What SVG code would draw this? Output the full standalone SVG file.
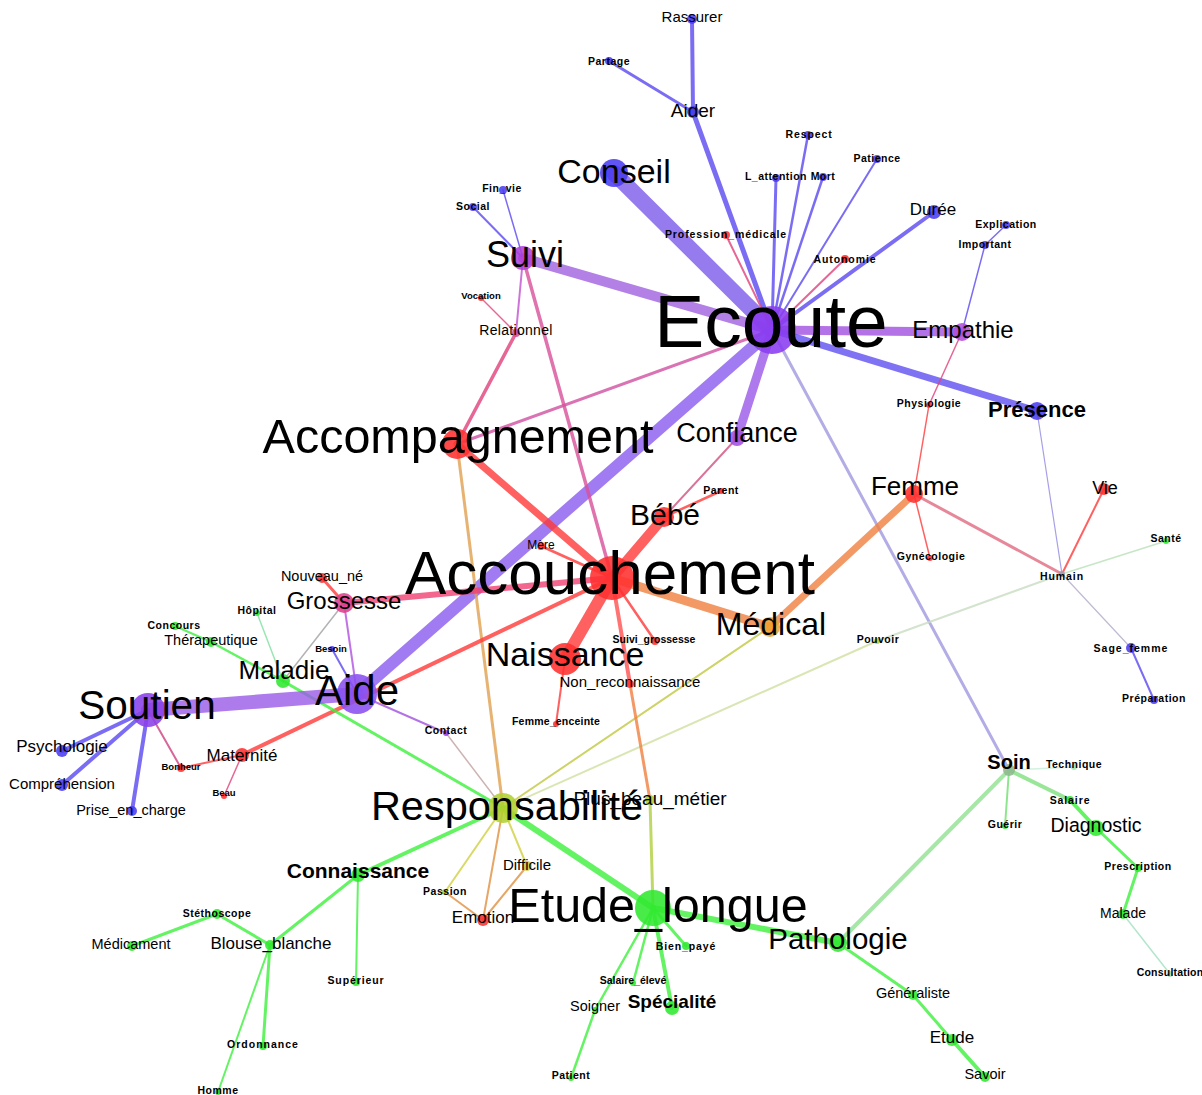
<svg xmlns="http://www.w3.org/2000/svg" width="1202" height="1095" viewBox="0 0 1202 1095">
<style>
.e{fill:none;stroke-linecap:round;stroke-opacity:0.8}
.eb{stroke:#5a48f0}.ep{stroke:#9055e8}.er{stroke:#ff3a3a}.ek{stroke:#e0407a}.eo{stroke:#f08040}.eg{stroke:#3cf03c}
.n{opacity:0.88}
.nb{fill:#4a3cf0}.np{fill:#9040e0}.nr{fill:#ff3030}.nk{fill:#e03c8c}.no{fill:#f0a030}.ny{fill:#b0d030}.ng{fill:#30e830}
text{font-family:"Liberation Sans",Arial,sans-serif;fill:#000;text-anchor:middle}
.s{font-size:10.5px;font-weight:bold;letter-spacing:0.5px}
</style>
<rect width="1202" height="1095" fill="#fff"/>
<g id="edges">
<line class="e eb" x1="692" y1="19" x2="693" y2="112" stroke-width="4"/>
<line class="e eb" x1="609" y1="61" x2="693" y2="112" stroke-width="3"/>
<line class="e eb" x1="693" y1="112" x2="772" y2="330" stroke-width="5"/>
<line class="e" stroke="#7a5ae8" x1="614" y1="173" x2="772" y2="330" stroke-width="16"/>
<line class="e" stroke="#a060e0" x1="523" y1="258" x2="772" y2="330" stroke-width="10"/>
<line class="e eb" x1="503" y1="190" x2="523" y2="258" stroke-width="1.5"/>
<line class="e eb" x1="473" y1="207" x2="523" y2="258" stroke-width="2"/>
<line class="e ek" x1="726" y1="235" x2="772" y2="330" stroke-width="2"/>
<line class="e eb" x1="776" y1="178" x2="772" y2="330" stroke-width="3"/>
<line class="e eb" x1="808" y1="135" x2="772" y2="330" stroke-width="2.5"/>
<line class="e eb" x1="823" y1="177" x2="772" y2="330" stroke-width="2.5"/>
<line class="e eb" x1="877" y1="159" x2="772" y2="330" stroke-width="2"/>
<line class="e eb" x1="934" y1="212" x2="772" y2="330" stroke-width="4"/>
<line class="e ek" x1="845" y1="259" x2="772" y2="330" stroke-width="2"/>
<line class="e eb" x1="1006" y1="225" x2="985" y2="245" stroke-width="1.5"/>
<line class="e eb" x1="985" y1="245" x2="962" y2="332" stroke-width="1.5"/>
<line class="e" stroke="#a050e0" x1="772" y1="330" x2="962" y2="332" stroke-width="9"/>
<line class="e" stroke="#6050f0" x1="772" y1="330" x2="1037" y2="411" stroke-width="7"/>
<line class="e ek" x1="962" y1="332" x2="929" y2="405" stroke-width="1.5"/>
<line class="e er" x1="929" y1="405" x2="914" y2="494" stroke-width="1.5"/>
<line class="e" stroke="#a098e0" x1="772" y1="330" x2="1009" y2="770" stroke-width="3"/>
<line class="e" stroke="#9a58e8" x1="772" y1="330" x2="737" y2="438" stroke-width="9"/>
<line class="e" stroke="#d050a0" x1="772" y1="330" x2="457" y2="444" stroke-width="3"/>
<line class="e" stroke="#8a5aef" x1="772" y1="330" x2="357" y2="694" stroke-width="12"/>
<line class="e" stroke="#c050d0" x1="523" y1="258" x2="516" y2="333" stroke-width="2"/>
<line class="e" stroke="#d8509a" x1="523" y1="258" x2="612" y2="578" stroke-width="3.5"/>
<line class="e ek" x1="481" y1="298" x2="516" y2="333" stroke-width="1.5"/>
<line class="e ek" x1="516" y1="333" x2="457" y2="444" stroke-width="3.5"/>
<line class="e er" x1="457" y1="444" x2="612" y2="578" stroke-width="7"/>
<line class="e" stroke="#e0a050" x1="457" y1="444" x2="503" y2="808" stroke-width="3"/>
<line class="e" stroke="#d05080" x1="737" y1="438" x2="664" y2="517" stroke-width="2"/>
<line class="e er" x1="721" y1="491" x2="664" y2="517" stroke-width="2.5"/>
<line class="e er" x1="664" y1="517" x2="612" y2="578" stroke-width="10"/>
<line class="e er" x1="541" y1="546" x2="612" y2="578" stroke-width="3"/>
<line class="e eo" x1="914" y1="494" x2="770" y2="627" stroke-width="7"/>
<line class="e eo" x1="612" y1="578" x2="770" y2="627" stroke-width="9"/>
<line class="e er" x1="914" y1="494" x2="930" y2="558" stroke-width="1.5"/>
<line class="e" stroke="#e06a80" x1="914" y1="494" x2="1062" y2="574" stroke-width="3"/>
<line class="e er" x1="1104" y1="489" x2="1062" y2="574" stroke-width="2"/>
<line class="e" stroke="#b8e0b8" x1="1166" y1="541" x2="1062" y2="574" stroke-width="1.5"/>
<line class="e" stroke="#9088e0" x1="1037" y1="411" x2="1062" y2="574" stroke-width="1.2"/>
<line class="e" stroke="#b0a8c8" x1="1062" y1="574" x2="1131" y2="648" stroke-width="1.2"/>
<line class="e eb" x1="1131" y1="648" x2="1154" y2="700" stroke-width="2"/>
<line class="e" stroke="#c8dcc0" x1="1062" y1="574" x2="877" y2="641" stroke-width="2"/>
<line class="e" stroke="#d0e0a0" x1="877" y1="641" x2="503" y2="808" stroke-width="2"/>
<line class="e" stroke="#c0c840" x1="770" y1="627" x2="503" y2="808" stroke-width="2"/>
<line class="e" stroke="#ff5050" x1="612" y1="578" x2="630" y2="684" stroke-width="4"/>
<line class="e eo" x1="630" y1="684" x2="650" y2="800" stroke-width="3"/>
<line class="e" stroke="#b0d040" x1="650" y1="800" x2="653" y2="908" stroke-width="3"/>
<line class="e er" x1="612" y1="578" x2="655" y2="641" stroke-width="2.5"/>
<line class="e er" x1="612" y1="578" x2="565" y2="659" stroke-width="12"/>
<line class="e er" x1="565" y1="659" x2="556" y2="724" stroke-width="2"/>
<line class="e" stroke="#f04070" x1="612" y1="578" x2="344" y2="603" stroke-width="6"/>
<line class="e er" x1="612" y1="578" x2="242" y2="755" stroke-width="4"/>
<line class="e er" x1="344" y1="603" x2="322" y2="578" stroke-width="3"/>
<line class="e" stroke="#b050e0" x1="344" y1="603" x2="357" y2="694" stroke-width="2"/>
<line class="e" stroke="#a0a0a0" x1="344" y1="603" x2="283" y2="681" stroke-width="1.5"/>
<line class="e eb" x1="332" y1="649" x2="357" y2="694" stroke-width="2"/>
<line class="e" stroke="#80e0a0" x1="257" y1="613" x2="283" y2="681" stroke-width="1.5"/>
<line class="e eg" x1="175" y1="626" x2="211" y2="642" stroke-width="2"/>
<line class="e eg" x1="211" y1="642" x2="283" y2="681" stroke-width="2.5"/>
<line class="e eg" x1="283" y1="681" x2="503" y2="808" stroke-width="3"/>
<line class="e" stroke="#9a5ae8" x1="148" y1="710" x2="357" y2="694" stroke-width="14"/>
<line class="e eb" x1="148" y1="710" x2="62" y2="751" stroke-width="4"/>
<line class="e eb" x1="148" y1="710" x2="62" y2="785" stroke-width="4"/>
<line class="e eb" x1="148" y1="710" x2="132" y2="811" stroke-width="4"/>
<line class="e" stroke="#d04080" x1="148" y1="710" x2="181" y2="768" stroke-width="2"/>
<line class="e er" x1="181" y1="768" x2="242" y2="755" stroke-width="2"/>
<line class="e ek" x1="242" y1="755" x2="224" y2="796" stroke-width="1.5"/>
<line class="e" stroke="#a050e0" x1="357" y1="694" x2="446" y2="733" stroke-width="2"/>
<line class="e" stroke="#c0a0a0" x1="446" y1="733" x2="503" y2="808" stroke-width="1.5"/>
<line class="e eg" x1="503" y1="808" x2="358" y2="875" stroke-width="4"/>
<line class="e eg" x1="503" y1="808" x2="653" y2="908" stroke-width="6"/>
<line class="e" stroke="#d0d040" x1="503" y1="808" x2="527" y2="866" stroke-width="2"/>
<line class="e" stroke="#d0d040" x1="503" y1="808" x2="445" y2="892" stroke-width="2"/>
<line class="e" stroke="#e09040" x1="503" y1="808" x2="483" y2="920" stroke-width="2"/>
<line class="e" stroke="#e09040" x1="527" y1="866" x2="483" y2="920" stroke-width="2"/>
<line class="e" stroke="#e09040" x1="445" y1="892" x2="483" y2="920" stroke-width="2"/>
<line class="e eg" x1="653" y1="908" x2="838" y2="943" stroke-width="6"/>
<line class="e eg" x1="653" y1="908" x2="686" y2="946" stroke-width="3"/>
<line class="e eg" x1="653" y1="908" x2="633" y2="983" stroke-width="2.5"/>
<line class="e eg" x1="653" y1="908" x2="595" y2="1010" stroke-width="2.5"/>
<line class="e eg" x1="595" y1="1010" x2="571" y2="1078" stroke-width="2.5"/>
<line class="e eg" x1="653" y1="908" x2="672" y2="1008" stroke-width="4"/>
<line class="e" stroke="#90e090" x1="838" y1="943" x2="1009" y2="770" stroke-width="4"/>
<line class="e eg" x1="838" y1="943" x2="913" y2="995" stroke-width="3"/>
<line class="e eg" x1="913" y1="995" x2="952" y2="1040" stroke-width="3"/>
<line class="e eg" x1="952" y1="1040" x2="985" y2="1077" stroke-width="4"/>
<line class="e" stroke="#c8ecd8" x1="1009" y1="770" x2="1074" y2="767" stroke-width="1.5"/>
<line class="e" stroke="#70e070" x1="1009" y1="770" x2="1005" y2="826" stroke-width="2"/>
<line class="e" stroke="#80e080" x1="1009" y1="770" x2="1070" y2="800" stroke-width="4"/>
<line class="e eg" x1="1070" y1="800" x2="1096" y2="828" stroke-width="4"/>
<line class="e eg" x1="1096" y1="828" x2="1138" y2="868" stroke-width="3"/>
<line class="e eg" x1="1138" y1="868" x2="1123" y2="914" stroke-width="3"/>
<line class="e" stroke="#a0e0c0" x1="1123" y1="914" x2="1170" y2="974" stroke-width="1.5"/>
<line class="e eg" x1="358" y1="875" x2="270" y2="945" stroke-width="3"/>
<line class="e eg" x1="358" y1="875" x2="356" y2="982" stroke-width="2"/>
<line class="e eg" x1="270" y1="945" x2="217" y2="914" stroke-width="3"/>
<line class="e eg" x1="217" y1="914" x2="132" y2="946" stroke-width="3"/>
<line class="e eg" x1="270" y1="945" x2="263" y2="1046" stroke-width="3"/>
<line class="e eg" x1="270" y1="945" x2="218" y2="1092" stroke-width="2"/>
</g>
<g id="n-rassurer"><circle class="n nb" cx="692" cy="19" r="5"/><text x="692" y="22" font-size="15">Rassurer</text></g>
<g id="n-partage"><circle class="n nb" cx="609" cy="61" r="4"/><text class="s" x="609" y="65">Partage</text></g>
<g id="n-aider"><circle class="n nb" cx="693" cy="112" r="6"/><text x="693" y="117" font-size="19">Aider</text></g>
<g id="n-conseil"><circle class="n nb" cx="614" cy="173" r="14"/><text x="614" y="183" font-size="34">Conseil</text></g>
<g id="n-finvie"><circle class="n nb" cx="503" cy="190" r="4"/><text class="s" x="502" y="192">Fin_vie</text></g>
<g id="n-social"><circle class="n nb" cx="473" cy="207" r="4"/><text class="s" x="473" y="210">Social</text></g>
<g id="n-suivi"><circle class="n" fill="#b040d8" cx="523" cy="258" r="12"/><text x="525" y="267" font-size="36">Suivi</text></g>
<g id="n-profession"><circle class="n nr" cx="726" cy="235" r="4"/><text class="s" x="726" y="238" style="letter-spacing:0.9px">Profession_médicale</text></g>
<g id="n-respect"><circle class="n nb" cx="808" cy="135" r="4"/><text class="s" x="809" y="138" style="letter-spacing:0.9px">Respect</text></g>
<g id="n-lattention"><circle class="n nb" cx="776" cy="178" r="4"/><text class="s" x="776" y="180">L_attention</text></g>
<g id="n-mort"><circle class="n nb" cx="823" cy="177" r="4"/><text class="s" x="823" y="180">Mort</text></g>
<g id="n-patience"><circle class="n nb" cx="877" cy="159" r="4"/><text class="s" x="877" y="162">Patience</text></g>
<g id="n-duree"><circle class="n nb" cx="934" cy="212" r="7"/><text x="933" y="215" font-size="17">Durée</text></g>
<g id="n-explication"><circle class="n nb" cx="1006" cy="225" r="4"/><text class="s" x="1006" y="228">Explication</text></g>
<g id="n-important"><circle class="n nb" cx="985" cy="245" r="4"/><text class="s" x="985" y="248">Important</text></g>
<g id="n-autonomie"><circle class="n nr" cx="845" cy="259" r="4"/><text class="s" x="845" y="263" style="letter-spacing:0.9px">Autonomie</text></g>
<g id="n-ecoute"><circle class="n" fill="#8a3cf0" cx="772" cy="330" r="24"/><text x="771" y="347" font-size="75">Ecoute</text></g>
<g id="n-empathie"><circle class="n" fill="#b050d8" cx="962" cy="332" r="9"/><text x="963" y="338" font-size="24">Empathie</text></g>
<g id="n-vocation"><circle class="n nr" cx="481" cy="298" r="3"/><text class="s" x="481" y="299" style="font-size:9.5px;letter-spacing:0">Vocation</text></g>
<g id="n-relationnel"><circle class="n" fill="#d050a0" cx="516" cy="333" r="4"/><text x="516" y="335" font-size="14" style="letter-spacing:0.3px">Relationnel</text></g>
<g id="n-physiologie"><circle class="n nr" cx="929" cy="405" r="3"/><text class="s" x="929" y="407">Physiologie</text></g>
<g id="n-presence"><circle class="n nb" cx="1037" cy="411" r="9"/><text x="1037" y="417" font-size="22" font-weight="bold">Présence</text></g>
<g id="n-accompagnement"><circle class="n nr" cx="457" cy="444" r="15"/><text x="458" y="453" font-size="48.5">Accompagnement</text></g>
<g id="n-confiance"><circle class="n" fill="#a050e0" cx="737" cy="438" r="8"/><text x="737" y="442" font-size="27">Confiance</text></g>
<g id="n-parent"><circle class="n nr" cx="721" cy="491" r="3"/><text class="s" x="721" y="494">Parent</text></g>
<g id="n-bebe"><circle class="n nr" cx="664" cy="517" r="10"/><text x="665" y="525" font-size="30">Bébé</text></g>
<g id="n-femme"><circle class="n nr" cx="914" cy="494" r="9"/><text x="915" y="495" font-size="26">Femme</text></g>
<g id="n-vie"><circle class="n nr" cx="1104" cy="489" r="6"/><text x="1105" y="494" font-size="18">Vie</text></g>
<g id="n-sante"><circle class="n ng" cx="1166" cy="541" r="3"/><text class="s" x="1166" y="542">Santé</text></g>
<g id="n-mere"><circle class="n nr" cx="541" cy="546" r="4"/><text x="541" y="549" font-size="12">Mère</text></g>
<g id="n-gynecologie"><circle class="n nr" cx="930" cy="558" r="3"/><text class="s" x="931" y="560">Gynécologie</text></g>
<g id="n-humain"><circle class="n" fill="#a0a0b0" cx="1062" cy="574" r="3"/><text class="s" x="1062" y="580" style="letter-spacing:0.9px">Humain</text></g>
<g id="n-accouchement"><circle class="n nr" cx="612" cy="578" r="22"/><text x="610" y="594" font-size="62">Accouchement</text></g>
<g id="n-nouveaune"><circle class="n nr" cx="322" cy="578" r="5"/><text x="322" y="581" font-size="14.5">Nouveau_né</text></g>
<g id="n-grossesse"><circle class="n nk" cx="344" cy="603" r="10"/><text x="344" y="609" font-size="24">Grossesse</text></g>
<g id="n-hopital"><circle class="n ng" cx="257" cy="613" r="3"/><text class="s" x="257" y="614">Hôpital</text></g>
<g id="n-concours"><circle class="n ng" cx="175" cy="626" r="4"/><text class="s" x="174" y="629">Concours</text></g>
<g id="n-therapeutique"><circle class="n ng" cx="211" cy="642" r="5"/><text x="211" y="645" font-size="14.5">Thérapeutique</text></g>
<g id="n-pouvoir"><circle class="n ny" cx="877" cy="641" r="3"/><text class="s" x="878" y="643">Pouvoir</text></g>
<g id="n-suivigrossesse"><circle class="n nr" cx="655" cy="641" r="4"/><text class="s" x="654" y="643" style="letter-spacing:0">Suivi_grossesse</text></g>
<g id="n-medical"><circle class="n no" cx="770" cy="627" r="10"/><text x="771" y="635" font-size="32">Médical</text></g>
<g id="n-sagefemme"><circle class="n nb" cx="1131" cy="648" r="5"/><text class="s" x="1131" y="652" style="letter-spacing:1px">Sage_femme</text></g>
<g id="n-besoin"><circle class="n nb" cx="332" cy="649" r="3"/><text class="s" x="331" y="652" style="font-size:9.5px;letter-spacing:0">Besoin</text></g>
<g id="n-naissance"><circle class="n nr" cx="565" cy="659" r="16"/><text x="565" y="666" font-size="34">Naissance</text></g>
<g id="n-maladie"><circle class="n ng" cx="283" cy="681" r="7"/><text x="284" y="679" font-size="26">Maladie</text></g>
<g id="n-nonreco"><circle class="n nr" cx="630" cy="684" r="4"/><text x="630" y="687" font-size="15">Non_reconnaissance</text></g>
<g id="n-soutien"><circle class="n" fill="#8a40e8" cx="148" cy="710" r="17"/><text x="147" y="719" font-size="40.5">Soutien</text></g>
<g id="n-aide"><circle class="n" fill="#8a50f0" cx="357" cy="694" r="20"/><text x="357" y="705" font-size="42">Aide</text></g>
<g id="n-preparation"><circle class="n nb" cx="1154" cy="700" r="4"/><text class="s" x="1154" y="702">Préparation</text></g>
<g id="n-femmeenceinte"><circle class="n nr" cx="556" cy="724" r="3"/><text class="s" x="556" y="725" style="letter-spacing:0.2px">Femme_enceinte</text></g>
<g id="n-contact"><circle class="n np" cx="446" cy="733" r="3"/><text class="s" x="446" y="734">Contact</text></g>
<g id="n-psychologie"><circle class="n nb" cx="62" cy="751" r="6"/><text x="62" y="752" font-size="17">Psychologie</text></g>
<g id="n-maternite"><circle class="n nr" cx="242" cy="755" r="7"/><text x="242" y="761" font-size="17">Maternité</text></g>
<g id="n-soin"><circle class="n" fill="#90b890" cx="1009" cy="770" r="6"/><text x="1009" y="769" font-size="20" font-weight="bold">Soin</text></g>
<g id="n-technique"><circle class="n" fill="#a0e0b0" cx="1074" cy="767" r="3"/><text class="s" x="1074" y="768">Technique</text></g>
<g id="n-bonheur"><circle class="n nr" cx="181" cy="768" r="4"/><text class="s" x="181" y="770" style="font-size:9.5px;letter-spacing:0">Bonheur</text></g>
<g id="n-comprehension"><circle class="n nb" cx="62" cy="785" r="6"/><text x="62" y="789" font-size="15">Compréhension</text></g>
<g id="n-beau"><circle class="n nr" cx="224" cy="796" r="3"/><text class="s" x="224" y="796" style="font-size:9.5px;letter-spacing:0">Beau</text></g>
<g id="n-plusbeau"><circle class="n ny" cx="650" cy="800" r="5"/><text x="650" y="805" font-size="19">Plus_beau_métier</text></g>
<g id="n-responsabilite"><circle class="n ny" cx="503" cy="808" r="15"/><text x="507" y="820" font-size="41.5">Responsabilité</text></g>
<g id="n-salaire"><circle class="n ng" cx="1070" cy="800" r="4"/><text class="s" x="1070" y="804" style="letter-spacing:0.9px">Salaire</text></g>
<g id="n-priseencharge"><circle class="n nb" cx="132" cy="811" r="5"/><text x="131" y="815" font-size="14.5">Prise_en_charge</text></g>
<g id="n-guerir"><circle class="n ng" cx="1005" cy="826" r="3"/><text class="s" x="1005" y="828">Guérir</text></g>
<g id="n-diagnostic"><circle class="n ng" cx="1096" cy="828" r="8"/><text x="1096" y="832" font-size="19.5">Diagnostic</text></g>
<g id="n-connaissance"><circle class="n ng" cx="358" cy="875" r="7"/><text x="358" y="878" font-size="21" font-weight="bold">Connaissance</text></g>
<g id="n-difficile"><circle class="n" fill="#d0c840" cx="527" cy="866" r="5"/><text x="527" y="870" font-size="15">Difficile</text></g>
<g id="n-prescription"><circle class="n ng" cx="1138" cy="868" r="4"/><text class="s" x="1138" y="870">Prescription</text></g>
<g id="n-passion"><circle class="n ny" cx="445" cy="892" r="3"/><text class="s" x="445" y="895">Passion</text></g>
<g id="n-etudelongue"><circle class="n ng" cx="653" cy="908" r="18"/><text x="658" y="922" font-size="48.5">Etude_longue</text></g>
<g id="n-emotion"><circle class="n nr" cx="483" cy="920" r="6"/><text x="483" y="923" font-size="17">Emotion</text></g>
<g id="n-malade"><circle class="n ng" cx="1123" cy="914" r="5"/><text x="1123" y="918" font-size="14">Malade</text></g>
<g id="n-stethoscope"><circle class="n ng" cx="217" cy="914" r="5"/><text class="s" x="217" y="917">Stéthoscope</text></g>
<g id="n-medicament"><circle class="n ng" cx="132" cy="946" r="5"/><text x="131" y="949" font-size="14.5">Médicament</text></g>
<g id="n-blouse"><circle class="n ng" cx="270" cy="945" r="5"/><text x="271" y="949" font-size="17">Blouse_blanche</text></g>
<g id="n-bienpaye"><circle class="n ng" cx="686" cy="946" r="4"/><text class="s" x="686" y="950" style="letter-spacing:0.9px">Bien_payé</text></g>
<g id="n-pathologie"><circle class="n ng" cx="838" cy="943" r="9"/><text x="838" y="949" font-size="29.5">Pathologie</text></g>
<g id="n-consultation"><circle class="n" fill="#a0e0b0" cx="1170" cy="974" r="3"/><text class="s" x="1170" y="976" style="letter-spacing:0.2px">Consultation</text></g>
<g id="n-superieur"><circle class="n ng" cx="356" cy="982" r="4"/><text class="s" x="356" y="984" style="letter-spacing:0.9px">Supérieur</text></g>
<g id="n-salaireeleve"><circle class="n ng" cx="633" cy="983" r="3"/><text class="s" x="633" y="984" style="letter-spacing:0">Salaire_élevé</text></g>
<g id="n-generaliste"><circle class="n ng" cx="913" cy="995" r="5"/><text x="913" y="998" font-size="14.5">Généraliste</text></g>
<g id="n-specialite"><circle class="n ng" cx="672" cy="1008" r="7"/><text x="672" y="1008" font-size="19" font-weight="bold">Spécialité</text></g>
<g id="n-soigner"><circle class="n ng" cx="595" cy="1010" r="3"/><text x="595" y="1011" font-size="14.5">Soigner</text></g>
<g id="n-etude"><circle class="n ng" cx="952" cy="1040" r="6"/><text x="952" y="1043" font-size="17">Etude</text></g>
<g id="n-ordonnance"><circle class="n ng" cx="263" cy="1046" r="4"/><text class="s" x="263" y="1048" style="letter-spacing:1px">Ordonnance</text></g>
<g id="n-patient"><circle class="n ng" cx="571" cy="1078" r="3"/><text class="s" x="571" y="1079">Patient</text></g>
<g id="n-savoir"><circle class="n ng" cx="985" cy="1077" r="5"/><text x="985" y="1079" font-size="14.5">Savoir</text></g>
<g id="n-homme"><circle class="n ng" cx="218" cy="1092" r="3"/><text class="s" x="218" y="1094">Homme</text></g>
</svg>
